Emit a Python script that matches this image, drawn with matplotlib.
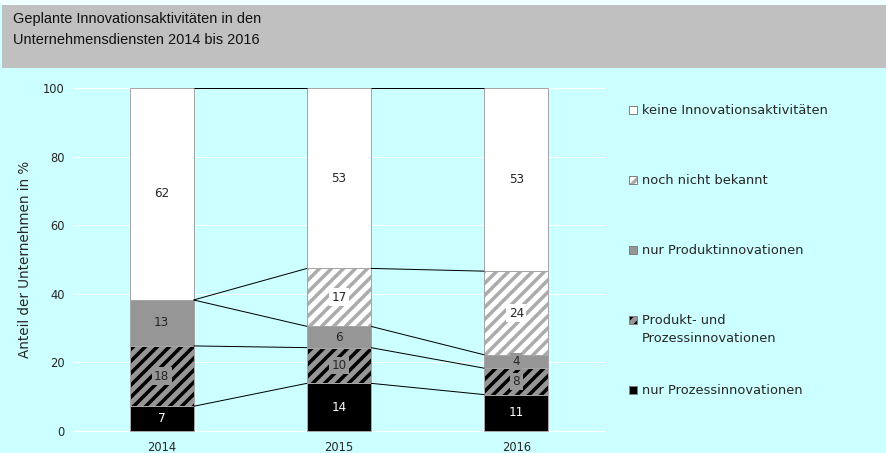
import matplotlib
matplotlib.use('Agg')
import matplotlib.pyplot as plt
from matplotlib.patches import Rectangle
import numpy as np

# ---------------- data ----------------
years = ['2014', '2015', '2016']
nur_prozess = [7.2, 13.9, 10.6]
produkt_und_prozess = [17.6, 10.4, 7.7]
nur_produkt = [13.4, 6.2, 3.9]
noch_nicht_bekannt = [0.0, 16.9, 24.4]
keine = [61.8, 52.6, 53.4]
series_labels = ['nur Prozessinnovationen', 'Produkt- und\nProzessinnovationen',
                 'nur Produktinnovationen', 'noch nicht bekannt',
                 'keine Innovationsaktivitäten']
title_lines = ['Geplante Innovationsaktivitäten in den', 'Unternehmensdiensten 2014 bis 2016']
ylabel = 'Anteil der Unternehmen in %'
yticks = [0, 20, 40, 60, 80, 100]

series = [nur_prozess, produkt_und_prozess, nur_produkt, noch_nicht_bekannt, keine]

# ---------------- styles ----------------
W, H, DPI = 886, 453, 72
CYAN = '#CCFFFF'
GREY = '#969696'
TXT = '#262626'
faces = ['black', GREY, GREY, 'white', 'white']
hatches = [None, '//', None, '//', None]
hatch_cols = ['black', 'black', GREY, '#ABABAB', 'white']
txt_cols = ['white', TXT, TXT, TXT, TXT]
box_cols = ['black', GREY, GREY, 'white', 'white']

plt.rcParams['font.family'] = ['DejaVu Sans']
plt.rcParams['hatch.linewidth'] = 3.5

fig = plt.figure(figsize=(W / DPI, H / DPI), dpi=DPI, facecolor=CYAN)


def fx(px):
    return px / W


def fy(py):
    return 1 - py / H


# title band
fig.patches.append(Rectangle((0, fy(5)), 1, fy(0) - fy(5), transform=fig.transFigure,
                             facecolor='#EEFFFF', edgecolor='none', zorder=0))
fig.patches.append(Rectangle((fx(2), fy(68)), 1, fy(5) - fy(68), transform=fig.transFigure,
                             facecolor='#C0C0C0', edgecolor='none', zorder=0))
for n, line in enumerate(title_lines):
    fig.text(fx(13), fy(23.5 + 20 * n), line, ha='left', va='baseline', fontsize=14.5,
             family='Liberation Sans', color='#111111')

# axes
ax_top, ax_bot = 86.3, 432.7
ax = fig.add_axes([fx(73), fy(ax_bot), fx(605) - fx(73), fy(ax_top) - fy(ax_bot)])
ax.set_facecolor(CYAN)
ax.set_xlim(-0.5, 2.5)
ax.set_ylim(-0.5, 100.5)
for s in ax.spines.values():
    s.set_visible(False)
ax.set_yticks(yticks)
ax.tick_params(axis='y', length=0, pad=8, labelsize=11.5, labelcolor=TXT)
ax.tick_params(axis='x', length=0, pad=8, labelsize=11.5, labelcolor=TXT)
ax.grid(axis='y', color='white', lw=1)
ax.set_axisbelow(True)
ax.set_ylabel(ylabel, fontsize=13.5, color=TXT, labelpad=11)

x = np.arange(len(years))
ax.set_xticks(x)
ax.set_xticklabels(years)
bw = 0.36

bottom = np.zeros(len(years))
cums = []
for k, vals in enumerate(series):
    vals = np.array(vals)
    ax.bar(x, vals, bw, bottom=bottom, color=faces[k], edgecolor=hatch_cols[k],
           hatch=hatches[k], linewidth=0, zorder=2)
    ax.bar(x, vals, bw, bottom=bottom, fill=False, edgecolor='#A6A6A6', linewidth=1, zorder=3)
    for i in range(len(years)):
        if vals[i] > 0:
            ax.text(x[i], bottom[i] + vals[i] / 2, f'{vals[i]:.0f}', ha='center', va='center',
                    fontsize=12, color=txt_cols[k], zorder=5,
                    bbox=dict(boxstyle='square,pad=0.2', fc=box_cols[k], ec='none'))
    bottom = bottom + vals
    cums.append(bottom.copy())

# series lines
for k, cum in enumerate(cums):
    for i in range(len(years) - 1):
        ax.plot([x[i] + bw / 2, x[i + 1] - bw / 2], [cum[i], cum[i + 1]], color='black',
                lw=1, zorder=4, solid_capstyle='butt')

# legend (top entry first)
centers = [110, 180, 250, 320, 390]
for j, k in enumerate(range(len(series) - 1, -1, -1)):
    cy = centers[j]
    fig.patches.append(Rectangle((fx(628.5), fy(cy + 4)), fx(8), fy(0) - fy(8),
                                 transform=fig.transFigure, facecolor=faces[k],
                                 edgecolor=hatch_cols[k], hatch=hatches[k], linewidth=0, zorder=3))
    fig.patches.append(Rectangle((fx(628.5), fy(cy + 4)), fx(8), fy(0) - fy(8),
                                 transform=fig.transFigure, fill=False,
                                 edgecolor='#808080', linewidth=1, zorder=4))
    for n, line in enumerate(series_labels[k].split('\n')):
        fig.text(fx(642), fy(cy + 4 + 17.5 * n), line, ha='left', va='baseline',
                 fontsize=13, color=TXT)

fig.savefig('out.png', dpi=DPI, facecolor=CYAN)
